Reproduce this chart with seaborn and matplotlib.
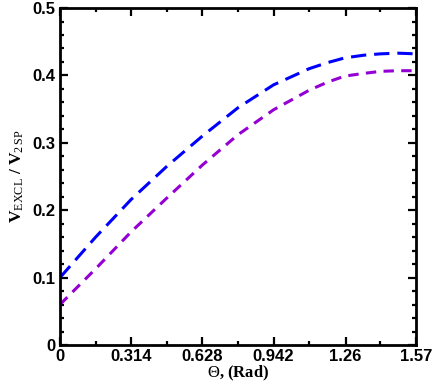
import numpy as np
import pandas as pd
import matplotlib
matplotlib.use("Agg")
import matplotlib.pyplot as plt
import seaborn as sns
from matplotlib.ticker import MultipleLocator, FixedLocator

theta = [0.0, 0.157, 0.314, 0.471, 0.628, 0.785, 0.942, 1.099, 1.18, 1.256, 1.34, 1.413, 1.49, 1.57]
v_blue = [0.100, 0.160, 0.216, 0.265, 0.310, 0.352, 0.386, 0.410, 0.419, 0.426, 0.430, 0.432, 0.433, 0.432]
v_violet = [0.060, 0.113, 0.168, 0.218, 0.267, 0.312, 0.349, 0.378, 0.390, 0.399, 0.403, 0.406, 0.407, 0.407]
xticks = [0, 0.314, 0.628, 0.942, 1.26, 1.57]
xticklabels = ["0", "0.314", "0.628", "0.942", "1.26", "1.57"]
yticks = [0, 0.1, 0.2, 0.3, 0.4, 0.5]
yticklabels = ["0", "0.1", "0.2", "0.3", "0.4", "0.5"]

sns.set_style("ticks")
plt.rcParams['font.family'] = ['Liberation Sans', 'DejaVu Sans']
plt.rcParams['mathtext.fontset'] = 'custom'
plt.rcParams['mathtext.rm'] = 'Liberation Serif'
plt.rcParams['mathtext.bf'] = 'Liberation Serif:bold'
plt.rcParams['mathtext.it'] = 'Liberation Serif:italic'

df = pd.concat([
    pd.DataFrame({"theta": theta, "v": v_blue, "series": "A"}),
    pd.DataFrame({"theta": theta, "v": v_violet, "series": "B"}),
])

fig = plt.figure(figsize=(4.36, 3.82), dpi=100)
ax = fig.add_axes([0.1376, 0.0969, 0.954 - 0.1376, 0.979 - 0.0969])

sns.lineplot(data=df[df.series == "A"], x="theta", y="v", ax=ax, color="#0000FF",
             lw=2.2, legend=False)
sns.lineplot(data=df[df.series == "B"], x="theta", y="v", ax=ax, color="#9400D3",
             lw=2.2, legend=False)
ax.lines[0].set_dashes([5, 2.6])
ax.lines[1].set_dashes([3.4, 2.4])

ax.set_xlim(0, 1.57)
ax.set_ylim(0, 0.5)
ax.xaxis.set_major_locator(FixedLocator(xticks))
ax.set_xticklabels(xticklabels)
ax.xaxis.set_minor_locator(FixedLocator([0.157, 0.471, 0.785, 1.099, 1.413]))
ax.yaxis.set_major_locator(FixedLocator(yticks))
ax.set_yticklabels(yticklabels)
ax.yaxis.set_minor_locator(MultipleLocator(0.02))

for s in ax.spines.values():
    s.set_linewidth(2.0)
    s.set_color('black')
    s.set_visible(True)
ax.tick_params(which='both', direction='in', top=True, right=True, width=1.6,
               color='black', labelcolor='black')
ax.tick_params(which='major', length=6, labelsize=12, pad=3)
ax.tick_params(which='minor', length=3)
for lab in ax.get_xticklabels() + ax.get_yticklabels():
    lab.set_fontweight('bold')

ax.set_xlabel(r"$\Theta$, (Rad)", family='Liberation Serif', fontweight='bold',
              fontsize=12, labelpad=0, color='black')
ax.set_ylabel(r"$\mathbf{V}_{\mathrm{EXCL}}\ \mathbf{/}\ \mathbf{V}_{\mathrm{2\,SP}}$",
              fontsize=12.5, labelpad=5, color='black')

fig.savefig("out.png", dpi=100)
